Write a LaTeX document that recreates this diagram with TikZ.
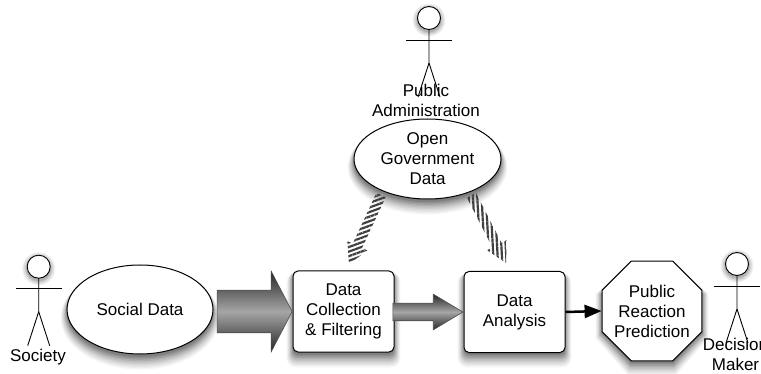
\documentclass[tikz,border=0pt]{standalone}
\usepackage{fontspec}
\setmainfont{Liberation Sans}
\usetikzlibrary{positioning,shapes.geometric,shapes.arrows,arrows.meta,patterns.meta}

% soft shadows, from the widest and palest to the darkest
\newcommand{\softshadow}[1]{%
    \foreach \g/\c in {9/3,8/7,7/11,6/15,5/20,4/25,3/31,2/37,1/43,0/50} {
        \fill[black!\c] #1;
    }
}

\tikzset{
    blob/.style={draw, ellipse, fill=white, line width=1pt, align=center, inner sep=0pt},
    stepbox/.style={draw, rounded corners=5pt, fill=white, line width=1pt, align=center,
        minimum width=101pt, minimum height=81pt, inner sep=0pt},
    stopbox/.style={draw, regular polygon, regular polygon sides=8, fill=white, line width=1pt,
        minimum size=108pt, inner sep=0pt},
    blockarrow/.style={draw=black!70, single arrow, line width=.6pt, inner xsep=0pt,
        anchor=tip, top color=black!85, bottom color=black!85, middle color=black!35},
    hatched/.style={single arrow, anchor=tip, inner xsep=0pt, inner ysep=4pt,
        minimum height=76pt, single arrow head extend=6pt, single arrow tip angle=58,
        pattern color=black!75},
    actor/.pic={
        \foreach \g/\c in {5/5,4/10,3/15,2/22,1/30} {
            \fill[black!\c] (0,2) circle ({11.5pt+\g pt});
        }
        \draw[line width=.9pt, fill=white] (0,0) circle (11.5pt);
        \draw[line width=.9pt] (0,11.5) -- (0,45) -- (-11,79);
        \draw[line width=.9pt] (0,45) -- (11,79);
        \draw[line width=.9pt] (-23,22) -- (23,22);
    },
    word/.style={inner sep=0pt, align=center}
}

\begin{document}
\begin{tikzpicture}[x=1pt, y=-1pt, font=\fontsize{17}{20}\selectfont]

\useasboundingbox (0,0) rectangle (761,374);

% Shadows
\softshadow{(140,312.5+\g*.6) ellipse [x radius={73pt+.7pt*\g}, y radius={44.5pt+.8pt*\g}]}
\softshadow{(427.5,162+\g*.6) ellipse [x radius={73.5pt+.7pt*\g}, y radius={40pt+.8pt*\g}]}
\softshadow{[rounded corners={5pt+.5pt*\g}] (293-\g*.7,274-\g*.2) rectangle (394+\g*.7,355+\g*1.4)}
\softshadow{[rounded corners={5pt+.5pt*\g}] (464-\g*.7,275-\g*.2) rectangle (565+\g*.7,355+\g*1.4)}
\softshadow{(631-\g*.3,265-\g*.2) -- (673+\g*.3,265-\g*.2) -- (702+\g*.7,294) -- (702+\g*.7,333+\g*.6)
    -- (673+\g*.3,363+\g*1.4) -- (631-\g*.3,363+\g*1.4) -- (602-\g*.7,333+\g*.6) -- (602-\g*.7,294) -- cycle}

% Actors
\pic at (38.7,266.7) {actor};
\pic at (429,18) {actor};
\pic at (737,264) {actor};
\node[word] (society) at (38,357.5) {Society};
\node[word] (admin) at (426,100) {Public\\Administration};
\node[word] (decision) at (735.5,354.5) {Decision\\Maker};

% Data nodes
\node[blob, minimum width=146pt, minimum height=89pt] (social) at (140,309.5) {Social Data};
\node[blob, minimum width=147pt, minimum height=80pt] (open) at (427.5,159) {Open\\Government\\Data};

% Steps
\node[stepbox] (collect) at (343.5,311.5) {Data\\Collection\\\& Filtering};
\node[stepbox] (analysis) at (514.5,312) {Data\\Analysis};
\node[stopbox] (predict) at (652,311) {};
\node[word] (predicttext) at (predict) {Public\\Reaction\\Prediction};

% Block arrows
\node[blockarrow, inner ysep=21pt, minimum height=75pt, single arrow head extend=19pt,
    single arrow tip angle=125] (bigarrow) at (collect.west) {};
\node[blockarrow, inner ysep=8.5pt, minimum height=70pt, single arrow head extend=9pt,
    single arrow tip angle=62] (smallarrow) at (analysis.west) {};

% Plain arrow
\draw[line width=2.5pt, -{Triangle[length=17pt, width=13pt]}] (analysis.east) -- (predict.west);

% Hatched arrows
\coordinate (leftend) at (348,266);
\coordinate (rightend) at (507,265);
\node[hatched, rotate=245, pattern={Lines[angle=20, distance=4.3pt, line width=2.2pt]}] (lefthatch) at (leftend) {};
\node[hatched, rotate=297, pattern={Lines[angle=93, distance=4.3pt, line width=2.2pt]}] (righthatch) at (rightend) {};

\end{tikzpicture}
\end{document}
